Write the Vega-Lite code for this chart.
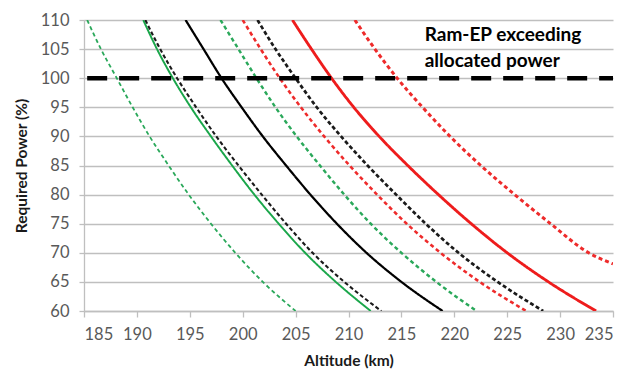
{
  "$schema": "https://vega.github.io/schema/vega-lite/v6.json",
  "autosize": "none",
  "width": 529,
  "height": 291,
  "padding": {"left": 84, "top": 20, "right": 24, "bottom": 63},
  "background": "white",
  "config": {
    "view": {"stroke": null},
    "font": "Lato",
    "axis": {"labelFont": "Lato", "titleFont": "Lato", "labelOverlap": false}
  },
  "datasets": {
    "curves": [
      {"series": "A", "alt": 185.3, "p": 110}, {"series": "A", "alt": 186.6, "p": 105}, {"series": "A", "alt": 188.1, "p": 100}, {"series": "A", "alt": 189.6, "p": 95}, {"series": "A", "alt": 191.2, "p": 90}, {"series": "A", "alt": 193.0, "p": 85}, {"series": "A", "alt": 194.9, "p": 80}, {"series": "A", "alt": 197.0, "p": 75}, {"series": "A", "alt": 199.3, "p": 70}, {"series": "A", "alt": 201.9, "p": 65}, {"series": "A", "alt": 205.0, "p": 60},
      {"series": "B", "alt": 190.6, "p": 110}, {"series": "B", "alt": 191.9, "p": 105}, {"series": "B", "alt": 193.4, "p": 100}, {"series": "B", "alt": 195.1, "p": 95}, {"series": "B", "alt": 197.0, "p": 90}, {"series": "B", "alt": 199.0, "p": 85}, {"series": "B", "alt": 201.1, "p": 80}, {"series": "B", "alt": 203.4, "p": 75}, {"series": "B", "alt": 205.9, "p": 70}, {"series": "B", "alt": 208.8, "p": 65}, {"series": "B", "alt": 212.1, "p": 60},
      {"series": "C", "alt": 190.8, "p": 110}, {"series": "C", "alt": 192.2, "p": 105}, {"series": "C", "alt": 193.8, "p": 100}, {"series": "C", "alt": 195.6, "p": 95}, {"series": "C", "alt": 197.5, "p": 90}, {"series": "C", "alt": 199.6, "p": 85}, {"series": "C", "alt": 201.8, "p": 80}, {"series": "C", "alt": 204.1, "p": 75}, {"series": "C", "alt": 206.6, "p": 70}, {"series": "C", "alt": 209.6, "p": 65}, {"series": "C", "alt": 213.1, "p": 60},
      {"series": "D", "alt": 194.6, "p": 110}, {"series": "D", "alt": 196.3, "p": 105}, {"series": "D", "alt": 198.0, "p": 100}, {"series": "D", "alt": 199.9, "p": 95}, {"series": "D", "alt": 201.9, "p": 90}, {"series": "D", "alt": 204.1, "p": 85}, {"series": "D", "alt": 206.4, "p": 80}, {"series": "D", "alt": 208.9, "p": 75}, {"series": "D", "alt": 211.7, "p": 70}, {"series": "D", "alt": 215.0, "p": 65}, {"series": "D", "alt": 218.9, "p": 60},
      {"series": "E", "alt": 197.9, "p": 110}, {"series": "E", "alt": 199.6, "p": 105}, {"series": "E", "alt": 201.3, "p": 100}, {"series": "E", "alt": 203.1, "p": 95}, {"series": "E", "alt": 205.1, "p": 90}, {"series": "E", "alt": 207.3, "p": 85}, {"series": "E", "alt": 209.6, "p": 80}, {"series": "E", "alt": 212.1, "p": 75}, {"series": "E", "alt": 215.0, "p": 70}, {"series": "E", "alt": 218.3, "p": 65}, {"series": "E", "alt": 222.1, "p": 60},
      {"series": "F", "alt": 200.0, "p": 110}, {"series": "F", "alt": 201.7, "p": 105}, {"series": "F", "alt": 203.5, "p": 100}, {"series": "F", "alt": 205.5, "p": 95}, {"series": "F", "alt": 207.7, "p": 90}, {"series": "F", "alt": 210.1, "p": 85}, {"series": "F", "alt": 212.7, "p": 80}, {"series": "F", "alt": 215.5, "p": 75}, {"series": "F", "alt": 218.7, "p": 70}, {"series": "F", "alt": 222.4, "p": 65}, {"series": "F", "alt": 226.8, "p": 60},
      {"series": "G", "alt": 201.4, "p": 110}, {"series": "G", "alt": 203.1, "p": 105}, {"series": "G", "alt": 205.0, "p": 100}, {"series": "G", "alt": 207.0, "p": 95}, {"series": "G", "alt": 209.3, "p": 90}, {"series": "G", "alt": 211.8, "p": 85}, {"series": "G", "alt": 214.5, "p": 80}, {"series": "G", "alt": 217.3, "p": 75}, {"series": "G", "alt": 220.4, "p": 70}, {"series": "G", "alt": 224.1, "p": 65}, {"series": "G", "alt": 228.4, "p": 60},
      {"series": "H", "alt": 204.7, "p": 110}, {"series": "H", "alt": 206.5, "p": 105}, {"series": "H", "alt": 208.4, "p": 100}, {"series": "H", "alt": 210.5, "p": 95}, {"series": "H", "alt": 212.9, "p": 90}, {"series": "H", "alt": 215.6, "p": 85}, {"series": "H", "alt": 218.5, "p": 80}, {"series": "H", "alt": 221.6, "p": 75}, {"series": "H", "alt": 225.0, "p": 70}, {"series": "H", "alt": 228.9, "p": 65}, {"series": "H", "alt": 233.4, "p": 60},
      {"series": "I", "alt": 210.6, "p": 110}, {"series": "I", "alt": 212.5, "p": 105}, {"series": "I", "alt": 214.6, "p": 100}, {"series": "I", "alt": 217.0, "p": 95}, {"series": "I", "alt": 219.6, "p": 90}, {"series": "I", "alt": 222.5, "p": 85}, {"series": "I", "alt": 225.7, "p": 80}, {"series": "I", "alt": 229.1, "p": 75}, {"series": "I", "alt": 232.7, "p": 70}, {"series": "I", "alt": 235.0, "p": 68.1}
    ],
    "limit": [{"alt": 185.3, "p": 100}, {"alt": 235, "p": 100}],
    "note": [
      {"alt": 217.2, "p": 106.4, "label": "Ram-EP exceeding"},
      {"alt": 217.2, "p": 101.9, "label": "allocated power"}
    ]
  },
  "encoding": {
    "x": {
      "field": "alt", "type": "quantitative",
      "scale": {"domain": [185, 235], "nice": false, "zero": false},
      "axis": {
        "title": "Altitude (km)", "values": [185, 190, 195, 200, 205, 210, 215, 220, 225, 230, 235],
        "grid": false, "labelOverlap": false, "domainColor": "#bfbfbf", "domainWidth": 1.3, "tickColor": "#bfbfbf", "tickSize": 6, "tickWidth": 1.3,
        "labelFontSize": 16.5, "labelColor": "#595959", "labelPadding": 9,
        "titleFontSize": 15.5, "titleFontWeight": "bold", "titleColor": "#1a1a1a", "titlePadding": 11
      }
    },
    "y": {
      "field": "p", "type": "quantitative",
      "scale": {"domain": [60, 110], "nice": false, "zero": false},
      "axis": {
        "title": "Required Power (%)", "values": [60, 65, 70, 75, 80, 85, 90, 95, 100, 105, 110],
        "grid": true, "labelOverlap": false, "gridColor": "#bfbfbf", "gridWidth": 1.3,
        "domainColor": "#bfbfbf", "domainWidth": 1.3, "tickColor": "#bfbfbf", "tickSize": 5, "tickWidth": 1.3,
        "labelFontSize": 16.5, "labelColor": "#595959", "labelPadding": 10,
        "titleFontSize": 15.5, "titleFontWeight": "bold", "titleColor": "#1a1a1a", "titlePadding": 11
      }
    }
  },
  "layer": [
    {
      "data": {"name": "curves"},
      "mark": {"type": "line", "interpolate": "monotone", "clip": true, "strokeCap": "butt"},
      "encoding": {
        "detail": {"field": "series"},
        "color": {
          "field": "series", "type": "nominal", "legend": null,
          "scale": {"domain": ["A", "B", "C", "D", "E", "F", "G", "H", "I"],
                    "range": ["#2aa85a", "#1aa64a", "#1a1a1a", "#000000", "#2aa85a", "#ee2b2b", "#1a1a1a", "#ee1c1c", "#ee2b2b"]}
        },
        "strokeDash": {
          "field": "series", "type": "nominal", "legend": null,
          "scale": {"domain": ["A", "B", "C", "D", "E", "F", "G", "H", "I"],
                    "range": [[4, 3], [1, 0], [4, 2.5], [1, 0], [4, 3], [4, 3], [4, 2.5], [1, 0], [4, 3]]}
        },
        "strokeWidth": {
          "field": "series", "type": "nominal", "legend": null,
          "scale": {"domain": ["A", "B", "C", "D", "E", "F", "G", "H", "I"],
                    "range": [1.8, 3, 1.8, 3, 1.8, 1.8, 1.8, 3, 1.8]}
        }
      }
    },
    {
      "data": {"name": "limit"},
      "mark": {"type": "line", "color": "#000000", "strokeWidth": 4.5, "strokeDash": [20, 12], "strokeCap": "butt"},
      "encoding": {}
    },
    {
      "data": {"name": "note"},
      "mark": {"type": "text", "align": "left", "baseline": "alphabetic", "font": "Lato", "fontSize": 19, "fontWeight": "bold", "color": "#000000"},
      "encoding": {
        "text": {"field": "label"}
      }
    }
  ]
}
